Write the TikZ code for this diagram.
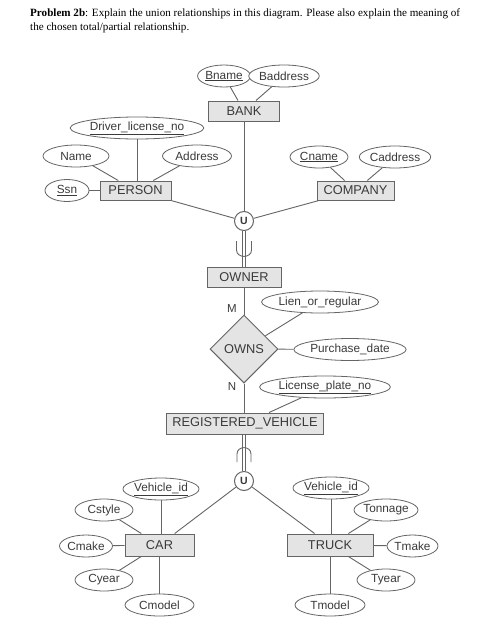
\documentclass[tikz,border=0pt]{standalone}
\usepackage{fontspec}
\setmainfont{Liberation Serif}
\setsansfont{Liberation Sans}
\usetikzlibrary{shapes.geometric}
\definecolor{lnc}{HTML}{656565}
\definecolor{entfill}{HTML}{E4E4E4}
\definecolor{txc}{HTML}{3A3A3A}
\begin{document}
\begin{tikzpicture}[x=1pt,y=-1pt,
  every node/.style={font=\sffamily, text=txc},
  ent/.style={draw=lnc, line width=1pt, fill=entfill, rectangle, inner sep=0pt, font=\sffamily\fontsize{12.8}{12.8}\selectfont},
  att/.style={draw=lnc, line width=0.8pt, fill=white, ellipse, inner sep=0pt, minimum height=22pt, font=\sffamily\fontsize{11.8}{11.8}\selectfont},
  rel/.style={draw=lnc, line width=1pt, fill=entfill, diamond, aspect=1, inner sep=0pt, minimum width=68pt, minimum height=68pt, font=\sffamily\fontsize{12.8}{12.8}\selectfont},
  uni/.style={draw=lnc, line width=1pt, fill=white, circle, inner sep=0pt, minimum size=19pt, font=\sffamily\bfseries\fontsize{10.5}{10.5}\selectfont},
  conn/.style={draw=lnc, line width=0.9pt},
  dbl/.style={draw=lnc, line width=0.8pt, double=white, double distance=2pt},
  subs/.style={draw=lnc, line width=0.9pt},
  card/.style={font=\sffamily\fontsize{11.5}{11.5}\selectfont}
]
\useasboundingbox (0,0) rectangle (488,642);
\fill[white] (0,0) rectangle (488,642);

% title
\node[anchor=base west, inner sep=0pt, font=\rmfamily\fontsize{11.1}{13.5}\selectfont, text=black, align=left] (title) at (30,30.5)
 {\textbf{Problem 2b}: Explain the union relationships in this diagram. Please also explain the meaning of\\the chosen total/partial relationship.};

% top entities
\node[ent, minimum width=71pt, minimum height=20pt] (bank) at (244,111) {BANK};
\node[att, minimum width=50pt] (bname) at (224,76) {\underline{Bname}};
\node[att, minimum width=70pt] (baddr) at (284,76) {Baddress};

\node[ent, minimum width=71pt, minimum height=19pt] (person) at (135.5,190.5) {PERSON};
\node[att, minimum width=125pt] (dlno) at (137,128) {\underline{Driver\_license\_no}};
\node[att, minimum width=66pt] (name) at (76,156) {Name};
\node[att, minimum width=69pt] (addr) at (197,156) {Address};
\node[att, minimum width=44pt] (ssn) at (67,190.5) {\underline{Ssn}};

\node[ent, minimum width=77pt, minimum height=19pt] (company) at (355.5,190.5) {COMPANY};
\node[att, minimum width=58pt] (cname) at (319,157) {\underline{Cname}};
\node[att, minimum width=69pt] (caddr) at (395,157) {Caddress};

\node[uni] (u1) at (244,221) {U};

\node[ent, minimum width=74pt, minimum height=20pt] (owner) at (244,277) {OWNER};
\node[rel] (owns) at (244,349) {OWNS};
\node[att, minimum width=105pt] (lien) at (320,302) {Lien\_or\_regular};
\node[att, minimum width=103pt] (pdate) at (350,349.5) {Purchase\_date};
\node[att, minimum width=119pt] (lpno) at (325,387) {\underline{License\_plate\_no}};
\node[ent, minimum width=157pt, minimum height=21pt] (regv) at (245,423.5) {REGISTERED\_VEHICLE};

\node[card, anchor=center] (mlab) at (232,309) {M};
\node[card, anchor=center] (nlab) at (232,387) {N};

\node[uni] (u2) at (244,481) {U};

% car
\node[ent, minimum width=69pt, minimum height=22pt] (car) at (159.5,545) {CAR};
\node[att, minimum width=72pt] (cvid) at (161,489) {\underline{Vehicle\_id}};
\node[att, minimum width=58pt] (cstyle) at (104,510) {Cstyle};
\node[att, minimum width=53pt] (cmake) at (86,546) {Cmake};
\node[att, minimum width=58pt] (cyear) at (104,580) {Cyear};
\node[att, minimum width=69pt] (cmodel) at (159.5,605) {Cmodel};

% truck
\node[ent, minimum width=86pt, minimum height=22pt] (truck) at (330,545) {TRUCK};
\node[att, minimum width=73pt] (tvid) at (331,488) {\underline{Vehicle\_id}};
\node[att, minimum width=64pt] (tonn) at (386,510) {Tonnage};
\node[att, minimum width=51pt] (tmake) at (412.5,546) {Tmake};
\node[att, minimum width=58pt] (tyear) at (386,580) {Tyear};
\node[att, minimum width=70pt] (tmodel) at (330,605) {Tmodel};

% connectors
\path[conn] (bname) -- (bank);
\path[conn] (baddr) -- (bank);
\path[conn] (dlno) -- (dlno |- person.north);
\path[conn] (name) -- (person);
\path[conn] (addr) -- (person);
\path[conn] (ssn) -- (person);
\path[conn] (cname) -- (company);
\path[conn] (caddr) -- (company);
\path[conn] (bank) -- (u1);
\path[conn] (person) -- (u1);
\path[conn] (company) -- (u1);
\path[dbl] (u1) -- (owner);
\path[conn] (owner) -- (owns);
\path[conn] (owns) -- (owns |- regv.north);
\path[conn] (lien) -- (owns);
\path[conn] (pdate) -- (owns);
\path[conn] (lpno) -- (regv);
\path[dbl] (u2 |- regv.south) -- (u2);
\path[conn] (u2) -- (car);
\path[conn] (u2) -- (truck);
\path[conn] (cvid) -- (cvid |- car.north);
\path[conn] (cstyle) -- (car);
\path[conn] (cmake) -- (car);
\path[conn] (cyear) -- (car);
\path[conn] (cmodel) -- (cmodel |- car.south);
\path[conn] (tvid) -- (tvid |- truck.north);
\path[conn] (tonn) -- (truck);
\path[conn] (tmake) -- (truck);
\path[conn] (tyear) -- (truck);
\path[conn] (tmodel) -- (tmodel |- truck.south);

% subset symbols on the double lines
\path[subs] (236.5,241) -- (236.5,250) .. controls (236.5,258.5) and (251.5,258.5) .. (251.5,250) -- (251.5,241);
\path[subs] (237,462) -- (237,454) .. controls (237,445.5) and (251,445.5) .. (251,454) -- (251,462);
\end{tikzpicture}
\end{document}
